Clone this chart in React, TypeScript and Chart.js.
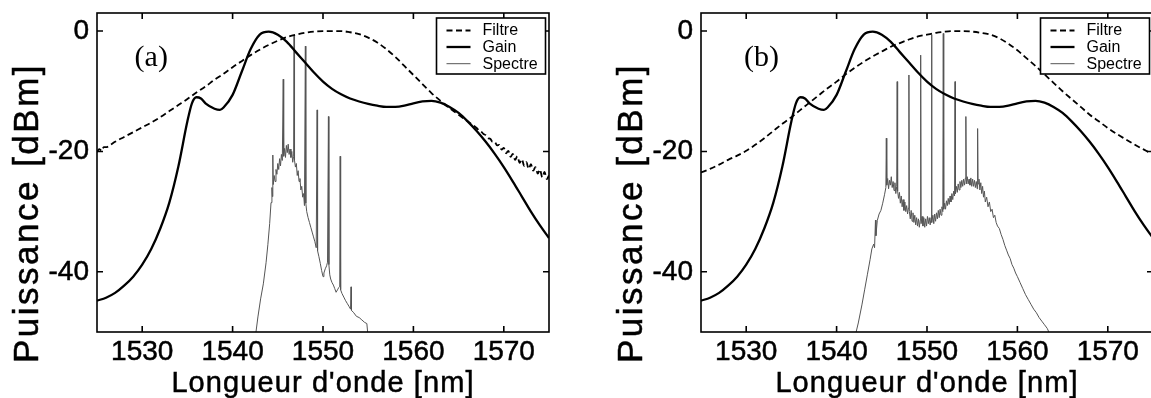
import React, { useEffect, useRef } from "react";
import { Chart, registerables } from "chart.js";

Chart.register(...registerables);

// ---------- axes ----------
const X_MIN = 1525;
const X_MAX = 1575;
const Y_MIN = -50;
const Y_MAX = 3;
const xTickValues = [1530, 1540, 1550, 1560, 1570];
const yTickValues = [0, -20, -40];
const xTitle = "Longueur d'onde [nm]";
const yTitle = "Puissance [dBm]";
const legendLabels = ["Filtre", "Gain", "Spectre"];
const panelLabels = ["(a)", "(b)"];
const panelLabelX = [1531.0, 1531.7];
const panelLabelY = [-4.5, -4.5];

// ---------- Gain (same in both panels) ----------
const gainX = [
  1525, 1526, 1527, 1528, 1529, 1530, 1531, 1532, 1533, 1534, 1535, 1535.5, 1536, 1536.5, 1537, 1538,
  1538.6, 1539, 1540, 1541, 1542, 1543, 1544, 1545, 1546, 1547, 1548, 1549, 1550, 1551, 1552, 1553,
  1554, 1555, 1556, 1557, 1558, 1559, 1560, 1561, 1562, 1563, 1564, 1565, 1566, 1567, 1568, 1569,
  1570, 1571, 1572, 1573, 1574, 1575,
];
const gainY = [
  -44.8, -44.3, -43.5, -42.3, -40.8, -38.8, -36.2, -32.8, -28.5, -22.5, -15.0, -12.0, -11.0, -11.2, -12.0, -12.9,
  -13.1, -12.7, -10.6, -6.8, -3.0, -0.6, -0.1, -0.6, -1.8, -3.5, -5.2, -6.9, -8.4, -9.6, -10.5, -11.2,
  -11.7, -12.1, -12.4, -12.6, -12.6, -12.4, -12.0, -11.7, -11.6, -11.9, -12.6, -13.6, -15.0, -16.6, -18.4, -20.4,
  -22.6, -25.0, -27.5, -30.0, -32.3, -34.4,
];

// ---------- Panel (a) ----------
const filtreAX = [
  1525, 1525.25, 1525.5, 1525.75, 1526, 1526.5, 1527, 1528, 1529, 1530, 1531, 1532, 1533, 1534, 1535, 1536,
  1537, 1538, 1539, 1540, 1541, 1542, 1543, 1544, 1545, 1546, 1547, 1548, 1549, 1550, 1551, 1552,
  1553, 1554, 1555, 1556, 1557, 1558, 1559, 1560, 1561, 1562, 1563, 1564, 1565, 1566, 1567, 1567.25,
  1567.5, 1567.75, 1568, 1568.25, 1568.5, 1568.75, 1569, 1569.25, 1569.5, 1569.75, 1570, 1570.25, 1570.5, 1570.75,
  1571, 1571.25, 1571.5, 1571.75, 1572, 1572.25, 1572.5, 1572.75, 1573, 1573.25, 1573.5, 1573.75, 1574, 1574.25,
  1574.5, 1574.75, 1575,
];
const filtreAY = [
  -20.1, -19.6, -19.9, -19.3, -19.3, -18.9, -18.4, -17.6, -16.8, -16.0, -15.2, -14.3, -13.3, -12.3, -11.3, -10.2,
  -9.2, -8.1, -7.1, -6.0, -5.0, -4.0, -3.1, -2.3, -1.6, -1.0, -0.6, -0.3, -0.1, 0.0, 0.0, 0.0,
  -0.2, -0.5, -1.1, -1.9, -3.0, -4.3, -5.8, -7.3, -8.8, -10.3, -11.6, -12.8, -13.9, -15.0, -16.1, -16.5,
  -16.7, -17.1, -17.3, -17.8, -17.9, -18.4, -18.4, -19.0, -18.9, -19.7, -19.4, -20.3, -19.9, -20.9,
  -20.4, -21.4, -20.8, -21.9, -21.3, -22.4, -21.8, -22.9, -22.1, -23.2, -22.6, -23.7, -23.0, -24.3,
  -23.4, -24.6, -24.0,
];
const spectreAX = [
  1542.5, 1542.8, 1543.1, 1543.4, 1543.7, 1543.9, 1544.1, 1544.25, 1544.35, 1544.4, 1544.45, 1544.5, 1544.6, 1544.7,
  1544.8, 1544.9, 1545.0, 1545.1, 1545.2, 1545.3, 1545.4, 1545.5, 1545.6, 1545.65, 1545.75, 1545.85, 1545.95, 1546.05,
  1546.15, 1546.25, 1546.35, 1546.45, 1546.55, 1546.65, 1546.75, 1546.8, 1546.85, 1546.95, 1547.05, 1547.15, 1547.25,
  1547.35, 1547.45, 1547.55, 1547.65, 1547.75, 1547.85, 1547.95, 1548.05, 1548.1, 1548.2, 1548.35, 1548.5, 1548.65,
  1548.8, 1548.95, 1549.1, 1549.25, 1549.35, 1549.4, 1549.55, 1549.7, 1549.85, 1550.0, 1550.1, 1550.25, 1550.4,
  1550.5, 1550.6, 1550.65, 1550.75, 1550.85, 1551.0, 1551.15, 1551.3, 1551.45, 1551.6, 1551.75, 1551.85, 1551.9,
  1551.95, 1552.1, 1552.3, 1552.5, 1552.7, 1552.9, 1553.05, 1553.1, 1553.15, 1553.4, 1553.7, 1554.0, 1554.3,
  1554.6, 1554.85, 1555.0,
];
const spectreAY = [
  -51, -47.5, -44.5, -42.0, -38.5, -35.5, -32.0, -28.5, -26.0, -27.5, -20.6, -25.5, -24.0, -25.0,
  -23.0, -23.8, -22.0, -23.0, -21.2, -22.4, -20.5, -21.5, -8.0, -20.8, -19.5, -21.0, -19.0, -20.2,
  -18.8, -20.5, -19.6, -21.0, -20.0, -21.8, -20.8, -0.7, -21.5, -22.6, -22.0, -24.0, -23.2,
  -25.0, -24.5, -26.4, -25.8, -27.6, -27.0, -29.0, -2.5, -28.6, -30.0, -31.0, -31.8, -32.6,
  -33.4, -34.2, -35.0, -36.0, -13.1, -36.5, -37.5, -38.6, -39.8, -40.8, -40.2, -39.5, -39.0,
  -38.4, -14.2, -38.8, -40.5, -41.2, -41.8, -42.2, -42.8, -43.4, -43.0, -42.6, -42.4, -20.8,
  -43.0, -43.6, -44.2, -44.8, -45.3, -45.8, -46.2, -42.5, -46.4, -46.8, -47.4, -47.6, -48.0,
  -48.4, -48.6, -51,
];

// ---------- Panel (b) ----------
const filtreBX = [
  1525, 1526, 1527, 1528, 1529, 1530, 1531, 1532, 1533, 1534, 1535, 1536, 1537, 1538, 1539, 1540,
  1541, 1542, 1543, 1544, 1545, 1546, 1547, 1548, 1549, 1550, 1551, 1552, 1553, 1554, 1555, 1556,
  1557, 1558, 1559, 1560, 1561, 1562, 1563, 1564, 1565, 1566, 1567, 1568, 1569, 1570, 1571, 1572,
  1573, 1574, 1575,
];
const filtreBY = [
  -23.5, -22.9, -22.2, -21.4, -20.7, -19.9, -18.9, -17.8, -16.6, -15.4, -14.3, -13.1, -11.9, -10.7, -9.5, -8.4,
  -7.2, -6.1, -5.1, -4.2, -3.4, -2.6, -2.0, -1.4, -0.9, -0.6, -0.3, -0.1, 0.0, 0.0, -0.1, -0.3,
  -0.6, -1.2, -2.1, -3.2, -4.5, -5.8, -7.2, -8.6, -10.0, -11.3, -12.6, -13.9, -15.0, -16.1, -17.1, -18.0,
  -18.9, -19.7, -20.5,
];
const spectreBX = [
  1542.0, 1542.4, 1542.8, 1543.1, 1543.4, 1543.7, 1543.9, 1544.1, 1544.2, 1544.3, 1544.35, 1544.5, 1544.7, 1544.9,
  1545.1, 1545.3, 1545.45, 1545.5, 1545.55, 1545.65, 1545.75, 1545.85, 1545.95, 1546.05, 1546.15, 1546.25, 1546.35,
  1546.45, 1546.55, 1546.65, 1546.7, 1546.75, 1546.85, 1546.95, 1547.05, 1547.15, 1547.25, 1547.35, 1547.45, 1547.55,
  1547.65, 1547.75, 1547.85, 1547.95, 1548.0, 1548.05, 1548.15, 1548.25, 1548.35, 1548.45, 1548.55, 1548.65, 1548.75,
  1548.85, 1548.95, 1549.05, 1549.15, 1549.25, 1549.3, 1549.35, 1549.45, 1549.55, 1549.65, 1549.75, 1549.85, 1549.95,
  1550.05, 1550.15, 1550.25, 1550.35, 1550.45, 1550.5, 1550.55, 1550.65, 1550.75, 1550.85, 1550.95, 1551.05, 1551.15,
  1551.25, 1551.35, 1551.45, 1551.55, 1551.65, 1551.75, 1551.8, 1551.85, 1551.95, 1552.05, 1552.15, 1552.25, 1552.35,
  1552.45, 1552.55, 1552.65, 1552.75, 1552.85, 1552.95, 1553.05, 1553.1, 1553.15, 1553.25, 1553.35, 1553.45, 1553.55,
  1553.65, 1553.75, 1553.85, 1553.95, 1554.05, 1554.15, 1554.25, 1554.3, 1554.35, 1554.45, 1554.55, 1554.65, 1554.75,
  1554.85, 1554.95, 1555.05, 1555.15, 1555.25, 1555.35, 1555.45, 1555.55, 1555.6, 1555.65, 1555.75, 1555.85, 1555.95,
  1556.05, 1556.15, 1556.25, 1556.35, 1556.45, 1556.6, 1556.75, 1556.9, 1557.05, 1557.2, 1557.35, 1557.5, 1557.65,
  1557.8, 1558.0, 1558.2, 1558.4, 1558.6, 1558.8, 1559.0, 1559.2, 1559.4, 1559.6, 1559.8, 1560.0, 1560.3, 1560.6,
  1560.9, 1561.2, 1561.5, 1561.8, 1562.1, 1562.4, 1562.7, 1563.0, 1563.3, 1563.6, 1563.8,
];
const spectreBY = [
  -51, -48.5, -45.5, -43.0, -40.5, -38.0, -36.2, -35.4, -36.0, -31.4, -34.0, -31.5, -30.4, -29.8,
  -28.6, -27.2, -26.0, -17.8, -25.6, -24.5, -26.2, -24.8, -25.6, -24.2, -26.0, -25.0, -26.5,
  -25.2, -27.0, -25.8, -8.4, -26.6, -27.8, -26.8, -28.6, -27.4, -29.2, -28.0, -29.8, -28.4,
  -30.0, -29.0, -30.4, -29.4, -7.3, -30.0, -31.2, -29.8, -31.6, -30.2, -31.8, -30.6, -32.2,
  -31.0, -32.4, -31.2, -32.6, -31.4, -4.0, -32.0, -30.8, -32.4, -31.0, -32.6, -31.2, -32.4,
  -30.8, -32.0, -31.0, -32.2, -31.0, -0.6, -31.8, -30.6, -32.0, -30.4, -31.6, -30.2, -31.2,
  -29.8, -31.0, -29.6, -30.6, -29.2, -30.0, -0.4, -29.6, -28.6, -29.6, -28.2, -29.0, -27.8,
  -28.8, -27.4, -28.4, -27.0, -28.0, -26.6, -27.4, -8.4, -27.0, -25.8, -26.8, -25.4, -26.4,
  -25.0, -26.0, -24.8, -25.8, -24.6, -25.6, -24.4, -14.2, -25.4, -24.2, -25.4, -24.6, -25.6,
  -24.4, -25.8, -24.6, -25.8, -24.8, -26.0, -25.0, -26.2, -16.2, -25.4, -24.6, -26.4, -25.2,
  -27.0, -25.8, -27.6, -26.6, -28.4, -27.6, -29.2, -28.4, -30.0, -29.6, -31.0, -30.6, -31.8,
  -32.4, -32.8, -33.8, -34.6, -35.6, -36.4, -37.2, -37.8, -38.8, -39.4, -40.2, -40.8, -41.8, -42.8,
  -43.8, -44.6, -45.4, -46.2, -46.8, -47.6, -48.2, -48.8, -49.4, -50.4, -51,
];

// ---------- styling ----------
const SANS = "'Liberation Sans', Arial, Helvetica, sans-serif";
const SERIF = "'Liberation Serif', 'Times New Roman', serif";
const CANVAS_W = 575;
const CANVAS_H = 398;
const PLOT_TOP = 13;
const PLOT_BOTTOM = 332;
const PLOT_LEFT = 97;
const PLOT_RIGHT = 549;
const TEXT_STROKE = 0.5;

const toPoints = (xs: number[], ys: number[]) => xs.map((x, i) => ({ x, y: ys[i] }));

const framePlugin = {
  id: "frame",
  afterDraw(chart: any, _args: any, opts: any) {
    const { ctx, chartArea } = chart;
    const { left, right, top, bottom } = chartArea;
    const xs = chart.scales.x;
    const ys = chart.scales.y;
    ctx.save();
    // frame
    ctx.strokeStyle = "#000";
    ctx.lineWidth = 1.6;
    ctx.strokeRect(left, top, right - left, bottom - top);
    // inward ticks
    const tl = 6;
    ctx.beginPath();
    xTickValues.forEach((v) => {
      const px = xs.getPixelForValue(v);
      ctx.moveTo(px, bottom);
      ctx.lineTo(px, bottom - tl);
      ctx.moveTo(px, top);
      ctx.lineTo(px, top + tl);
    });
    yTickValues.forEach((v) => {
      const py = ys.getPixelForValue(v);
      ctx.moveTo(left, py);
      ctx.lineTo(left + tl, py);
      ctx.moveTo(right, py);
      ctx.lineTo(right - tl, py);
    });
    ctx.stroke();

    // x title
    ctx.fillStyle = "#000";
    ctx.lineWidth = TEXT_STROKE;
    ctx.font = `29px ${SANS}`;
    (ctx as any).letterSpacing = "1.1px";
    ctx.textAlign = "center";
    ctx.textBaseline = "alphabetic";
    ctx.fillText(xTitle, (left + right) / 2, bottom + 60);
    ctx.strokeText(xTitle, (left + right) / 2, bottom + 60);

    // y title
    ctx.save();
    ctx.font = `35px ${SANS}`;
    (ctx as any).letterSpacing = "2.5px";
    ctx.translate(left - 69, bottom - 119);
    ctx.rotate(-Math.PI / 2);
    ctx.textAlign = "center";
    ctx.textBaseline = "middle";
    ctx.fillText(yTitle, 0, 0);
    ctx.strokeText(yTitle, 0, 0);
    ctx.restore();
    (ctx as any).letterSpacing = "0px";

    // panel label
    ctx.font = `30px ${SERIF}`;
    ctx.textAlign = "center";
    ctx.textBaseline = "middle";
    ctx.fillText(opts.label, xs.getPixelForValue(opts.labelX), ys.getPixelForValue(opts.labelY));

    // legend box
    const bw = 109;
    const bh = 56;
    const bx = right - 3.5 - bw;
    const by = top + 5;
    ctx.fillStyle = "#fff";
    ctx.fillRect(bx, by, bw, bh);
    ctx.strokeStyle = "#000";
    ctx.lineWidth = 1.6;
    ctx.strokeRect(bx, by, bw, bh);
    const rows = [12.5, 29, 45.7];
    chart.data.datasets.forEach((ds: any, i: number) => {
      const yy = by + rows[i];
      ctx.save();
      ctx.strokeStyle = ds.borderColor;
      ctx.lineWidth = ds.borderWidth;
      ctx.setLineDash(ds.borderDash || []);
      ctx.beginPath();
      ctx.moveTo(bx + 10, yy);
      ctx.lineTo(bx + 34, yy);
      ctx.stroke();
      ctx.restore();
      ctx.fillStyle = "#000";
      ctx.font = `16px ${SANS}`;
      ctx.textAlign = "left";
      ctx.textBaseline = "middle";
      ctx.fillText(legendLabels[i], bx + 46, yy + 0.5);
    });
    ctx.restore();
  },
};

const zeroPad = (s: any) => {
  s.paddingTop = 0;
  s.paddingBottom = 0;
  s.paddingLeft = 0;
  s.paddingRight = 0;
};

function makeConfig(
  filtreX: number[],
  filtreY: number[],
  spectreX: number[],
  spectreY: number[],
  idx: number
): any {
  const tickFont = { family: SANS, size: 28 };
  return {
    type: "line",
    data: {
      datasets: [
        {
          label: legendLabels[0],
          data: toPoints(filtreX, filtreY),
          borderColor: "#000",
          borderWidth: 1.8,
          borderDash: [6, 3.5],
          pointRadius: 0,
          cubicInterpolationMode: "monotone",
          fill: false,
        },
        {
          label: legendLabels[1],
          data: toPoints(gainX, gainY),
          borderColor: "#000",
          borderWidth: 2.3,
          pointRadius: 0,
          cubicInterpolationMode: "monotone",
          fill: false,
        },
        {
          label: legendLabels[2],
          data: toPoints(spectreX, spectreY),
          borderColor: "#555",
          borderWidth: 1,
          pointRadius: 0,
          tension: 0,
          fill: false,
        },
      ],
    },
    options: {
      animation: false,
      responsive: false,
      devicePixelRatio: 1,
      events: [],
      layout: { padding: { top: PLOT_TOP, right: CANVAS_W - PLOT_RIGHT, bottom: 0, left: 0 } },
      plugins: {
        legend: { display: false },
        tooltip: { enabled: false },
        frame: { label: panelLabels[idx], labelX: panelLabelX[idx], labelY: panelLabelY[idx] },
      },
      scales: {
        x: {
          type: "linear",
          min: X_MIN,
          max: X_MAX,
          afterBuildTicks: (s: any) => {
            s.ticks = xTickValues.map((v) => ({ value: v }));
          },
          afterFit: (s: any) => {
            s.height = CANVAS_H - PLOT_BOTTOM;
            zeroPad(s);
          },
          grid: { display: false, drawTicks: false },
          border: { display: false },
          ticks: {
            font: tickFont,
            color: "#000",
            textStrokeColor: "#000",
            textStrokeWidth: TEXT_STROKE,
            padding: 3,
            maxRotation: 0,
            autoSkip: false,
            callback: (v: any) => String(v),
          },
        },
        y: {
          type: "linear",
          min: Y_MIN,
          max: Y_MAX,
          afterBuildTicks: (s: any) => {
            s.ticks = yTickValues.map((v) => ({ value: v }));
          },
          afterFit: (s: any) => {
            s.width = PLOT_LEFT;
            zeroPad(s);
          },
          grid: { display: false, drawTicks: false },
          border: { display: false },
          ticks: {
            font: tickFont,
            color: "#000",
            textStrokeColor: "#000",
            textStrokeWidth: TEXT_STROKE,
            padding: 8,
            autoSkip: false,
            callback: (v: any) => String(v),
          },
        },
      },
    },
    plugins: [framePlugin],
  };
}

export default function App() {
  const refA = useRef<HTMLCanvasElement>(null);
  const refB = useRef<HTMLCanvasElement>(null);

  useEffect(() => {
    const ca = new Chart(refA.current as HTMLCanvasElement, makeConfig(filtreAX, filtreAY, spectreAX, spectreAY, 0));
    const cb = new Chart(refB.current as HTMLCanvasElement, makeConfig(filtreBX, filtreBY, spectreBX, spectreBY, 1));
    return () => {
      ca.destroy();
      cb.destroy();
    };
  }, []);

  return (
    <div
      style={{
        position: "fixed",
        left: 0,
        top: 0,
        width: 1151,
        height: 398,
        overflow: "hidden",
        background: "#fff",
      }}
    >
      <canvas
        ref={refA}
        width={CANVAS_W}
        height={CANVAS_H}
        style={{ position: "absolute", left: 0, top: 0, width: CANVAS_W, height: CANVAS_H }}
      />
      <canvas
        ref={refB}
        width={CANVAS_W}
        height={CANVAS_H}
        style={{ position: "absolute", left: 604, top: 0, width: CANVAS_W, height: CANVAS_H }}
      />
    </div>
  );
}
